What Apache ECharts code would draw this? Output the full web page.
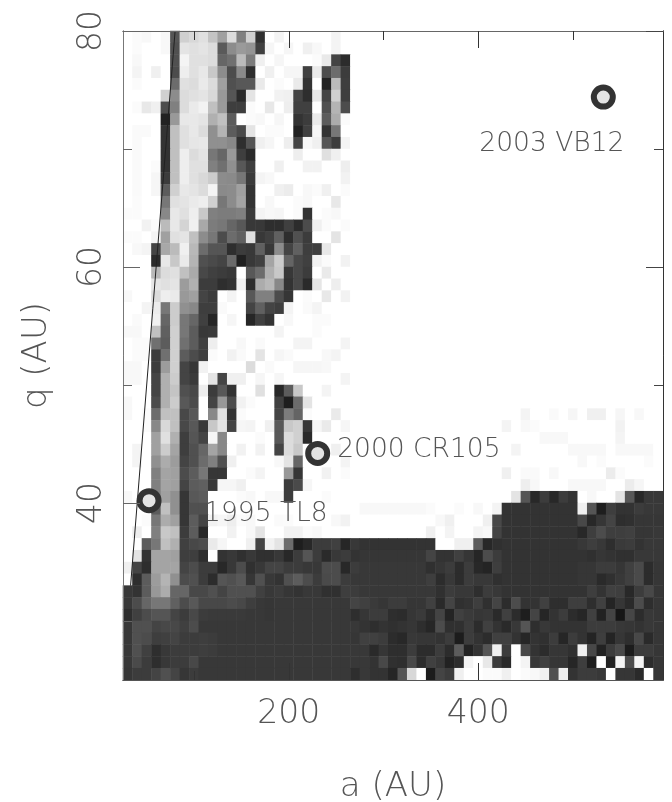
<!DOCTYPE html>
<html><head><meta charset="utf-8">
<style>html,body{margin:0;padding:0;background:#fff}#c{width:672px;height:802px}</style>
<script src="https://cdn.jsdelivr.net/npm/echarts@6/dist/echarts.min.js"></script>
</head><body><div id="c"></div>
<script>
// gray intensity per bin, top row (q = 79-80) first, 57 bins of 10 AU in a; hex pairs, "xx*n" repeats, short rows end in white
const densityRows = [
"ff fb f8 ff f8 55 d0 d8 e0 c4 a0 dc 80 d0 30 ff f4 ff*5 f4",
"ff fb ff ff f8 50 e4 e0 e4 dc 5a 8c 9a 94 40 f6 ff f6 ff f0 f8 ff f4",
"ff f8 ff ff ff 50 f4 e0 e0 dc 66 70 bb 7c f0 ff f6 ff ff ff fb e9 44 2c",
"ff f4 ff f0 ff 4c ee e0 e8 c8 8c 4c 8a 2e ff f0 ff f6 f6 40 ea 4c 6c 3c",
"ff fb ff ff ff 6c e0 dc ea dc a0 50 58 58 ea ff fb ff ea 33 ff 22 bb 3e",
"ff ff ff ff d0 8c dc e0 e4 d8 99 55 2a e4 ff ff f2 f0 44 2e e8 44 d0 3e",
"ff fb e8 f0 4c 80 dc ea f2 c0 9a 3e 3e fb ff e8 ff ee 40 40 ff 50 b4 4c",
"ff ff ff ff 22 99 e8 e8 e4 b0 c0 5c ff fb f8 ff f6 ff 33 3c ea 5c ac fb",
"ff fa fa ff 33 c0 e0 e8 dc 90 b4 5c 4a e4 ff fb fb ff 22 40 f6 33 77",
"ff fa ff ff 33 c0 e0 e6 e8 90 90 88 2e 55 f0 f6 ff ee 44 f8 f0 55 3c f4",
"ff fa ff ff 33 c0 ee dc e4 77 66 99 3e 2a ff ff ff ff ee ff ff e0 f0",
"ff fa ff fb 33 c0 ee e0 e0 80 70 90 58 3e ff ff f0 ff ff f2 f2 ff ff ee",
"ff fa ff f6 3c c0 ee e0 d8 cc 8c 8a 77 3a f4 f8 ff*7 f2",
"ff fa ff f6 5c d0 e8 e4 dc f4 8a 8c a0 33 ff ff f0 ec ff f8 fb f0 ff fb",
"ff fb ff ff 77 e0 e4 ea ee d0 77 8c a4 33 ff f8 ff ff fb f8 ff ff e8",
"fb fb ff ff 88 e8 e0 ee c8 80 7c 7c 80 3a f4 f8 f6 ff fb 33 ff fb f8",
"ff ff f2 fb bb e8 d4 f0 a8 7c 77 66 58 38 38 2e 2e 40 2c 4c f0 fb ff fb",
"fb fb ff f4 a0 e0 e4 c0 8c 77 4c 6c 60 e0 38 40 60 2e 50 3c ff ff e4",
"ff f8 f4 44 a8 bb f0 b8 6c 55 55 2e 3c 38 60 38 8c 44 60 3e 3e e8",
"ff ff ff 2a e8 c8 ea b4 50 4a 44 6a 20 38 40 a4 cc 64 48 40 f2 fb ff f2",
"ff ff ff b8 dc e0 c0 aa 48 40 3c 38 ff 58 6c b0 c8 38 48 3c ff ea",
"ff ff ff e6 e0 e4 9c b0 3c 3c 2e 33 f2 2e ac b8 88 33 48 2a e6 ff ee",
"f8 ff ff dc ee ea 99 a0 44 3c ff f4 ff 58 80 80 4c 36 ff fb ff e8 ff f2",
"ff ff f4 ec 77 cc 90 88 3e 3e fa ff ff 44 60 44 3e f4 ff fa f4",
"ff fa ff f0 66 cc 77 66 40 26 ff f6 ff 26 40 33 ff f8 ff ff fb fb",
"f8 f8 ff c0 60 d0 77 5c 38 3a ff ff ff ff ff ff f4 ff ff ff fb",
"ff fb fb 70 5c d0 70 5c 40 ee ff ff f8 ff fa ff ff ff f4 f4 ff ff ff f4",
"ff fb fb 3c 70 d0 5c 4c 40 fb ff f2 fa ff e4 ff f6 fa ff ff ff f8 f4",
"f8 f8 ff 3c 9c d0 44 36 f2 ff ff ff ff dc ff fa ff ff f6 f6 f6 f8",
"f8 f8 ff 44 b0 cc 44 3a ff e4 44 f0 f0 ff f6 ff f6 ff*6 f4",
"ff ff ff 44 b0 c4 50 48 ee 3c 58 33 ff ff e0 ff 28 5c c8 ff ff f4",
"f8 ff ff 4c b0 cc 58 4c ff 44 98 4c f2 fb ff ff 40 1e 6c e4",
"f8 ff fb 6c c0 c0 48 58 ff 88 e0 33 fb ff ff ff 44 7c 64 fb ff ff ea ff ff ff*17 f4 ff ff fa ff f6 ff f0 f0 ff f6 ff f8",
"ff ff fb 88 d8 c0 48 58 38 c8 e4 44 f6 f4 ff f0 58 c8 d0 38 f6 ea ff f6 ff ff*15 f4 ff f8 fb ff*8 f2",
"ff ff ff a0 e0 b0 3e 55 44 f6 88 ff ff ff fb ff 58 dc d0 2a ff ff ff ff ff ff*19 f8 f8 f8 ff*5 f4",
"ff f4 ff a0 cc a4 3e 50 66 a4 88 ff f2 ff f2 ff 44 dc c8 ff ff ff f0 ff ff ff*16 f4 ff*5 f8 f8 f8 f8 ff f8 f8 f8 f8",
"ff f4 ff 90 ac 9c 44 50 6c 80 50 f0 ff ff ff ff f8 e4 66 ff ff ff ff f4 ff ff*23 f8 ff fb ff*4 fb",
"ff ff ff 80 a4 a0 4c 5c 77 36 36 ff ff fb f4 ff ff 98 36 ff ff f2 ff fb ff ff*15 f0 ff fa fa ff f8 ff*5 ec fb",
"ff ff ff 80 a4 a0 44 5c 60 38 f6 f6 f0 ff ff ff ff 3c 4a f6 ff ff ff ff ff ff*17 ee f8 ff*3 f8 f8 f8 f8 ff ff ec f6",
"f8 ff ff 80 a0 90 36 58 5c ff ff ff fb f8 ff f8 f8 3c ff ff ff fb ff ff ff ff*16 e4 55 28 3c 28 3c 33 ff f8 ff ff e4 58 28 38 38",
"ff ff ff 5c c0 90 36 50 50 ff*16 f8*7 fb ff ff fb ff f8 ff f4 33*8 f0 55 1e 3e 33 33 3c 38 38",
"ff ff fb 77 ac a0 36 5c 44 f2 f6 ee fb f8 ff ff fa fb ff ff ff ff f8 f2 ff ff*8 f8 f0 ff ff ff f0 48 33*8 48 28 36 44 2e 30 36 36 36",
"ff ee ff 80 c8 c0 3c 5c 28 ff ff f2 ff f8 e4 ff ff f2 f2 fb f8 ff ff ff ff ff*7 f0 ff f4 ff ff f4 f8 44 33*8 28 3e 4c 3e 3e 40 36 36 38",
"ff ff 5c 77 c0 b0 40 48 4c ea f6 ff ff f0 44 f2 e4 6c 1e 28 3c 3c 40 26 38 33*8 ff ff f0 f0 5c 28 30 33*8 38 3e 38 2e 3a 3c 33 38 38",
"ff e4 33 a4 a4 a0 3e 3e 2e ff 33 38 30 38 30 30 38 28 3c 55 3c 2a 38 3c 33 36*7 44 33 33 40 36 26 4c 3c 33*8 33 30 36 33 30 30 38 38 38",
"f0 44 2e a4 a4 a4 44 4c 3c 3c 28 38 4c 30 38 44 44 3c 3c 38 38 4c 4c 28 3c 38*7 30 36 3c 2c 3c 28 24 3e 33*8 36 36 3c 3c 36 40 4a 2c 36",
"ff 2e 5c 9c b4 90 4c 50 3c 2c 55 50 58 36 50 38 33 50 5c 4c 3c 4a 4c 3c 38 38*7 3e 2c 38 2c 3c 38 38 30 33*8 36 36 2a 30 38 40 4a 2c 36",
"38 33 5c 98 ac 66 66 48 48 50 44 50 50 50 40 38 3c 36 33 38 38 30 30 3e 3c 38*7 38 30 3c 38 38 2e 3c 38 33*8 33 3e 33 40 3e 28 3c 48 36",
"38 4c 66 77 77 60 4c 58 48 48 48 4c 48 3e 38 36 38*8 44 40 3a 36 3c 3c 36 36 40 2a 44 30 33 3e 30 44 2c 4c 33 33 40 2e 2e 3e 3e 2e 40 24 36 2a 4c 2e 36",
"2e 40 4c 55 55 44 3c 48 3c 3a 3a 3a 3a 38 38 36 38*8 2e 36 3c 3c 2e 2c 36 3a 2c 44 24 40 3a 36 38 2a 40 2c 1e 44 26 33 3c 2c 26 40 22 44 16 46 2c 38 36",
"38 50 50 44 48 48 40 4c 38 38*16 33 2e 33 30 33 36 2e 26 4c 30 30 3c 2c 40 33 2a 38 55 2e 38 33 33 33 33 3c 3c 3c 38 36 33 38 36",
"38 50 4c 3e 40 44 3c 3c 3e 3c 38*14 36 40 40 3c 2c 28 38 36 36 33 3c 1c 3c 33 2c 40 40 33 26 33 30 3c 26 3c 33 24 3e 24 36 2e 48 2a 36",
"38 50 40 2e 38 3c 3c 3c 3e 3c 38*15 38 2a 36 2e 2e 3c 2c 2c 3c 2c 5c 22 33 55 f0 3c ff 48 33 2c 36 36 30 f0 48 22 3c 4a 1c 3c 3c 36",
"38 4a 3c 2e 38 3c 3c 48 38*17 38 33 48 30 2e 48 2c 40 38 22 2c f4 ff e8 3c 2a ff f4 38 40 36 36 26 3e 1e ff 22 f4 4c f4 2c 36",
"36 3c 3c 44 50 44 36 3c 38*16 2e 38 33 33 26 55 d8 ff 1c 44 3c f0 ff ff fb fb f0 ff fb f8 f0 50 ee 33 3c 3c 38 ff 36 36 2a ff 36"
];
const aStart = 25, aStep = 10, aCount = 57;
const qStart = 25, qStep = 1, qCount = 55;
const aBins = Array.from({length: aCount}, (_, i) => aStart + aStep * i);
const qBins = Array.from({length: qCount}, (_, i) => qStart + qStep * i);
const objectNames = ["1995 TL8", "2000 CR105", "2003 VB12"];
const objectA = [52.5, 230.5, 532];
const objectQ = [40.2, 44.2, 74.4];
const labelOffsets = [[67.5, 26], [32, 9], [-111.5, 60]];
const perihelionLineA = [33, 80];
const perihelionLineQ = [33, 80];
const aMajorTicks = [200, 400], aMinorTicks = [100, 300, 500];
const qMajorTicks = [40, 60, 80], qMinorTicks = [30, 50, 70];

function parseRow(s) {
  const out = [];
  s.trim().split(/\s+/).forEach(t => {
    const [h, n] = t.split('*');
    for (let k = 0; k < (n ? +n : 1); k++) out.push(parseInt(h, 16));
  });
  while (out.length < aCount) out.push(255);
  return out.slice(0, aCount);
}
const heat = [];
densityRows.forEach((s, r) => parseRow(s).forEach((v, c) => heat.push([c, qCount - 1 - r, v])));

const FONT = '"DejaVu Sans"', TXT = '#555';
const valX = (pos, ticks, len, labels, extra) => Object.assign({
  type: 'value', min: 25, max: 595, position: pos, z: 10, splitLine: {show: false},
  axisLine: {show: true, onZero: false, lineStyle: {color: pos === 'top' ? '#666' : '#555', width: 1}},
  axisTick: {show: true, inside: true, length: len, customValues: ticks, lineStyle: {color: '#333', width: 1}},
  axisLabel: labels ? {show: true, customValues: ticks, margin: 18, fontFamily: FONT, fontWeight: 200, fontSize: 33, color: TXT} : {show: false}
}, extra || {});
const valY = (pos, ticks, len, labels, extra) => Object.assign({
  type: 'value', min: 25, max: 80, position: pos, z: 10, splitLine: {show: false},
  axisLine: {show: true, onZero: false, lineStyle: {color: pos === 'left' ? '#777' : '#333', width: 1}},
  axisTick: {show: true, inside: true, length: len, customValues: ticks, lineStyle: {color: pos === 'left' ? '#666' : '#444', width: 1}},
  axisLabel: labels ? {show: true, customValues: ticks, rotate: 90, margin: 14, fontFamily: FONT, fontWeight: 200, fontSize: 33, color: TXT} : {show: false}
}, extra || {});

const chart = echarts.init(document.getElementById('c'), null, {renderer: 'canvas'});
chart.setOption({
  animation: false,
  backgroundColor: '#fff',
  grid: {left: 123, top: 31, width: 540, height: 649, containLabel: false, outerBoundsMode: 'none'},
  xAxis: [
    {type: 'category', data: aBins, show: false},
    valX('bottom', aMajorTicks, 17, true, {name: 'a (AU)', nameLocation: 'middle', nameGap: 90,
      nameTextStyle: {fontFamily: FONT, fontWeight: 200, fontSize: 34, color: TXT}}),
    valX('bottom', aMinorTicks, 9, false),
    valX('top', aMajorTicks, 17, false),
    valX('top', aMinorTicks, 9, false)
  ],
  yAxis: [
    {type: 'category', data: qBins, show: false},
    valY('left', qMajorTicks, 17, true, {name: 'q (AU)', nameLocation: 'middle', nameGap: 69, nameRotate: 90,
      nameTextStyle: {fontFamily: FONT, fontWeight: 200, fontSize: 34, color: TXT}}),
    valY('left', qMinorTicks, 9, false),
    valY('right', qMajorTicks, 17, false),
    valY('right', qMinorTicks, 9, false)
  ],
  visualMap: {type: 'continuous', show: false, seriesIndex: 0, dimension: 2, min: 0, max: 255, inRange: {color: ['#000000', '#ffffff']}},
  series: [
    {type: 'heatmap', xAxisIndex: 0, yAxisIndex: 0, data: heat, progressive: 0, itemStyle: {borderWidth: 0}, z: 2},
    {type: 'line', xAxisIndex: 1, yAxisIndex: 1, showSymbol: false, silent: true, z: 4,
      data: perihelionLineA.map((a, i) => [a, perihelionLineQ[i]]),
      lineStyle: {color: '#222', width: 1}},
    {type: 'scatter', xAxisIndex: 1, yAxisIndex: 1, z: 5, symbol: 'circle', symbolSize: 19,
      itemStyle: {color: '#e4e4e4', borderColor: '#333', borderWidth: 6, opacity: 1},
      data: objectA.map((a, i) => ({
        value: [a, objectQ[i]],
        label: {show: true, formatter: objectNames[i], position: labelOffsets[i], align: 'left', verticalAlign: 'middle',
          fontFamily: FONT, fontWeight: 200, fontSize: 26.5, color: TXT}
      }))}
  ]
});
</script></body></html>
